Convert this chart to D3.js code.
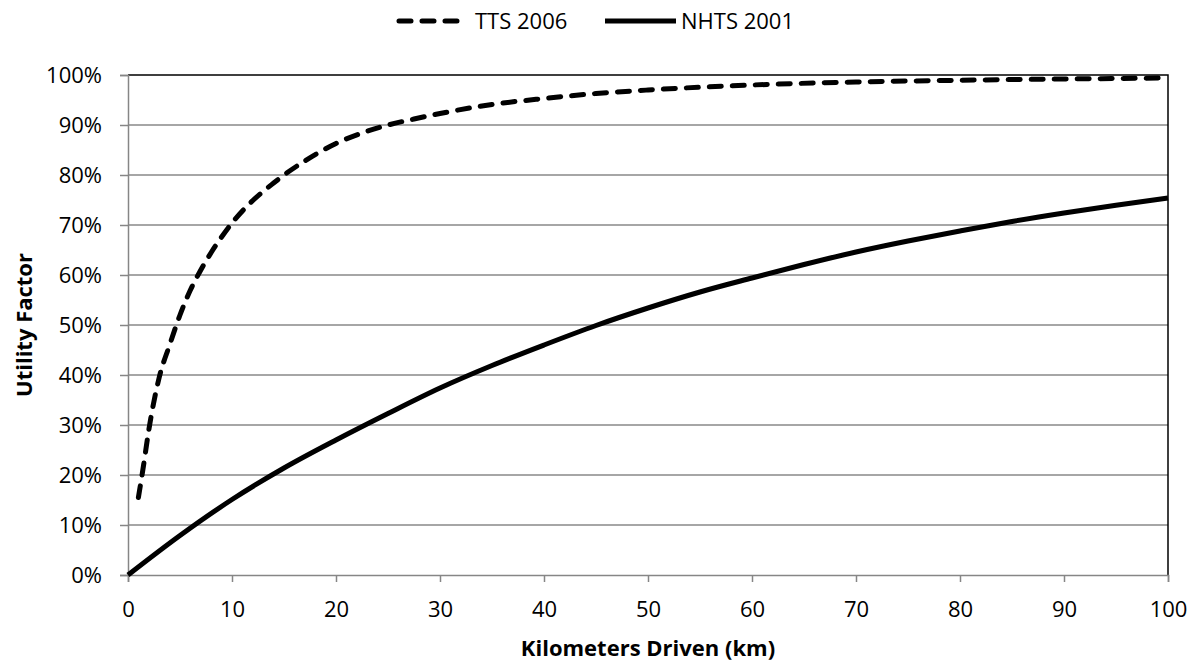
<!DOCTYPE html>
<html>
  <head>
    <meta charset="utf-8">
    <title>Utility Factor</title>
    <script src="https://d3js.org/d3.v7.min.js"></script>
    <style>
      body { margin: 0; background: #fff; }
      text { font-family: "Open Sans", sans-serif; fill: #000; }
    </style>
  </head>
  <body>
    <svg width="1201" height="664"></svg>

    <script type="text/javascript">
    // series values (km driven, utility factor in %)
    var ttsKm  = [1, 1.5, 2, 3, 4, 5, 6, 7, 8, 9, 10, 11, 12, 14, 15, 17, 20, 22.5, 25, 27.5, 30, 35, 40, 45, 50, 60, 70, 80, 90, 100];
    var ttsUf  = [15.5, 22, 29, 39.5, 46, 52, 57, 61, 64.5, 67.6, 70.4, 72.8, 74.9, 78.4, 80.0, 82.8, 86.3, 88.4, 90.0, 91.2, 92.3, 94.1, 95.3, 96.3, 97.0, 98.0, 98.6, 98.95, 99.2, 99.4];
    var nhtsKm = [0, 5, 10, 15, 20, 25, 30, 35, 40, 45, 50, 55, 60, 65, 70, 75, 80, 85, 90, 95, 100];
    var nhtsUf = [0, 7.9, 15.1, 21.4, 27.0, 32.3, 37.4, 41.9, 46.0, 49.9, 53.4, 56.6, 59.4, 62.1, 64.6, 66.8, 68.8, 70.7, 72.4, 73.95, 75.4];

    var xTicks = [0, 10, 20, 30, 40, 50, 60, 70, 80, 90, 100];
    var yTicks = [0, 10, 20, 30, 40, 50, 60, 70, 80, 90, 100];
    var seriesNames = ["TTS 2006", "NHTS 2001"];

    var svg = d3.select("svg");
    var margin = {top: 75, right: 33, bottom: 89, left: 128};
    var width = 1201 - margin.left - margin.right;
    var height = 664 - margin.top - margin.bottom;

    var x = d3.scaleLinear().domain([0, 100]).range([0, width]);
    var y = d3.scaleLinear().domain([0, 100]).range([height, 0]);

    var g = svg.append("g")
      .attr("transform", "translate(" + margin.left + "," + margin.top + ")");

    // gridlines
    g.append("g")
      .selectAll("line")
      .data(yTicks.slice(1, -1))
      .enter().append("line")
        .attr("x1", 0).attr("x2", width)
        .attr("y1", function(d) { return y(d); })
        .attr("y2", function(d) { return y(d); })
        .attr("stroke", "#898989")
        .attr("stroke-width", 1.3);

    // plot area border (top / right)
    g.append("path")
      .attr("d", "M0," + y(100) + "H" + width + "V" + height)
      .attr("fill", "none")
      .attr("stroke", "#000")
      .attr("stroke-width", 1.5);

    var xAxis = g.append("g")
      .attr("transform", "translate(0," + height + ")")
      .call(d3.axisBottom(x).tickValues(xTicks).tickSize(7));

    var yAxis = g.append("g")
      .call(d3.axisLeft(y).tickValues(yTicks).tickSize(8).tickPadding(18)
        .tickFormat(function(d) { return d + "%"; }));

    [xAxis, yAxis].forEach(function(a) {
      a.selectAll("path, line").attr("stroke", "#868686").attr("stroke-width", 1.5);
      a.selectAll("text")
        .style("font-family", "'Open Sans', sans-serif")
        .style("font-size", "22px")
        .attr("fill", "#000");
    });
    xAxis.selectAll("text").attr("y", 42).attr("dy", 0);
    yAxis.selectAll("text").attr("dy", "0.36em");

    var line = d3.line()
      .x(function(d) { return x(d[0]); })
      .y(function(d) { return y(d[1]); })
      .curve(d3.curveMonotoneX);

    var tts = d3.zip(ttsKm, ttsUf);
    var nhts = d3.zip(nhtsKm, nhtsUf);

    g.append("path")
      .datum(nhts)
      .attr("d", line)
      .attr("fill", "none")
      .attr("stroke", "#000")
      .attr("stroke-width", 5);

    g.append("path")
      .datum(tts)
      .attr("d", line)
      .attr("fill", "none")
      .attr("stroke", "#000")
      .attr("stroke-width", 5)
      .attr("stroke-linecap", "round")
      .attr("stroke-dasharray", "12,11");

    // axis titles
    svg.append("text")
      .attr("x", margin.left + width / 2)
      .attr("y", 656)
      .attr("text-anchor", "middle")
      .style("font-size", "22px")
      .style("font-weight", "bold")
      .text("Kilometers Driven (km)");

    svg.append("text")
      .attr("transform", "translate(32," + (margin.top + height / 2) + ") rotate(-90)")
      .attr("text-anchor", "middle")
      .style("font-size", "22px")
      .style("font-weight", "bold")
      .text("Utility Factor");

    // legend
    var legend = svg.append("g");
    legend.append("line")
      .attr("x1", 399).attr("x2", 458).attr("y1", 21).attr("y2", 21)
      .attr("stroke", "#000").attr("stroke-width", 5)
      .attr("stroke-linecap", "round").attr("stroke-dasharray", "12,11");
    legend.append("text")
      .attr("x", 475).attr("y", 21).attr("dy", "0.36em")
      .style("font-size", "22px")
      .text(seriesNames[0]);
    legend.append("line")
      .attr("x1", 605).attr("x2", 676).attr("y1", 21).attr("y2", 21)
      .attr("stroke", "#000").attr("stroke-width", 5);
    legend.append("text")
      .attr("x", 681).attr("y", 21).attr("dy", "0.36em")
      .style("font-size", "22px")
      .text(seriesNames[1]);
    </script>
  </body>
</html>
